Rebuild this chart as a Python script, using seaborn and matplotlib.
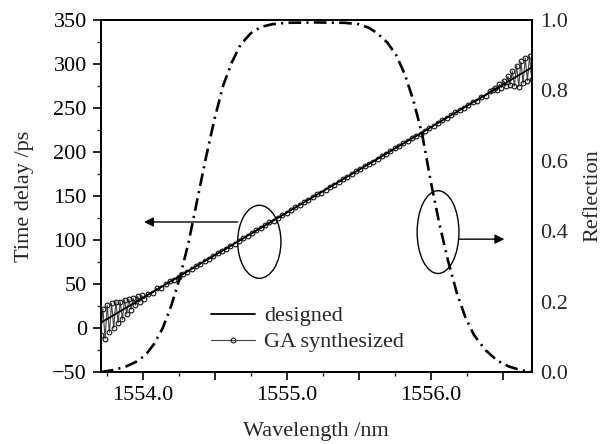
import matplotlib
matplotlib.use("Agg")
import matplotlib.pyplot as plt
import seaborn as sns
import numpy as np
import pandas as pd
from matplotlib.patches import Ellipse
from matplotlib.ticker import MultipleLocator, FuncFormatter

sns.set_style("ticks")
plt.rcParams['font.family'] = ['Liberation Serif', 'DejaVu Serif']
plt.rcParams['axes.unicode_minus'] = True

# ---- data ----
designed_wl = [1553.71, 1556.70]
designed_delay = [6, 296]

# GA synthesized: fine sampling at the noisy edges, coarser in the middle
ga_wl_left = [round(1553.71 + 0.015 * i, 3) for i in range(20)]
ga_delay_left = [-8, 22, -12, 26, -5, 28, 0, 30, 6, 30,
                 10, 32, 16, 33, 21, 34, 26, 36, 30, 37]
ga_wl_mid = [round(1554.01 + 0.03 * k, 3) for k in range(81)]
ga_delay_mid = [33, 39, 40, 45, 46, 50, 53, 55, 58, 61,
                64, 67, 70, 73, 76, 79, 82, 85, 87, 90,
                93, 96, 99, 102, 105, 108, 111, 114, 117, 120,
                122, 125, 128, 131, 134, 137, 140, 143, 146, 149,
                152, 154, 157, 160, 163, 166, 169, 172, 175, 178,
                181, 184, 186, 189, 192, 195, 198, 201, 204, 207,
                210, 213, 216, 218, 221, 224, 227, 230, 233, 236,
                239, 242, 245, 248, 250, 253, 257, 258, 263, 264,
                269]
ga_wl_right = [round(1556.43 + 0.015 * j, 3) for j in range(19)]
ga_delay_right = [270, 273, 271, 277, 273, 281, 275, 286, 276, 292,
                  275, 298, 274, 303, 278, 307, 281, 309, 283]

refl_wl = [1553.71, 1553.80, 1553.88, 1553.95, 1554.02, 1554.08, 1554.14, 1554.20,
           1554.26, 1554.32, 1554.38, 1554.44, 1554.50, 1554.56, 1554.62, 1554.68,
           1554.75, 1554.82, 1554.90, 1555.00, 1555.20, 1555.40, 1555.50, 1555.57,
           1555.63, 1555.70, 1555.76, 1555.82, 1555.88, 1555.94, 1556.00, 1556.06,
           1556.12, 1556.18, 1556.24, 1556.30, 1556.38, 1556.46, 1556.54, 1556.62,
           1556.70]
refl = [0.000, 0.006, 0.015, 0.028, 0.048, 0.080, 0.125, 0.190,
        0.270, 0.370, 0.490, 0.610, 0.720, 0.815, 0.880, 0.930,
        0.962, 0.980, 0.988, 0.992, 0.993, 0.992, 0.988, 0.978,
        0.962, 0.935, 0.900, 0.845, 0.770, 0.675, 0.540, 0.420,
        0.315, 0.225, 0.155, 0.105, 0.062, 0.033, 0.016, 0.006,
        0.000]

x_labels = {1554.0: "1554.0", 1555.0: "1555.0", 1556.0: "1556.0"}

df_des = pd.DataFrame({"wl": designed_wl, "delay": designed_delay})
df_ga = pd.DataFrame({"wl": ga_wl_left + ga_wl_mid + ga_wl_right,
                      "delay": ga_delay_left + ga_delay_mid + ga_delay_right})
df_ref = pd.DataFrame({"wl": refl_wl, "refl": refl})

fig = plt.figure(figsize=(6.07, 4.44), dpi=100)
ax = fig.add_axes([0.166, 0.162, 0.710, 0.793])
ax2 = ax.twinx()

sns.lineplot(data=df_ga, x="wl", y="delay", ax=ax, color="#444444", lw=0.8,
             marker="o", markersize=3.4, markerfacecolor="none",
             markeredgecolor="#111111", markeredgewidth=0.8,
             label="GA synthesized", zorder=3, sort=False)
sns.lineplot(data=df_des, x="wl", y="delay", ax=ax, color="black", lw=1.3,
             label="designed", zorder=4)

sns.lineplot(data=df_ref, x="wl", y="refl", ax=ax2, color="black", lw=1.9,
             linestyle=(0, (4.8, 2.0, 0.8, 2.0)), legend=False)

ax.set_xlim(1553.71, 1556.70)
ax.set_ylim(-50, 350)
ax2.set_ylim(0.0, 1.0)

ax.xaxis.set_major_locator(MultipleLocator(0.5))
ax.xaxis.set_minor_locator(MultipleLocator(0.25))
ax.xaxis.set_major_formatter(FuncFormatter(lambda v, p: x_labels.get(round(v, 2), "")))
ax.yaxis.set_major_locator(MultipleLocator(50))
ax.yaxis.set_minor_locator(MultipleLocator(25))
ax2.yaxis.set_major_locator(MultipleLocator(0.2))
ax2.yaxis.set_major_formatter(FuncFormatter(lambda v, p: f"{v:.1f}"))

ax.tick_params(axis="both", which="major", direction="out", length=6, width=1.2,
               labelsize=16, colors="black", pad=4)
ax.tick_params(axis="both", which="minor", direction="out", length=3, width=1.0)
ax.tick_params(axis="x", which="both", top=False)
ax.tick_params(axis="y", which="both", right=False)
ax2.tick_params(axis="y", which="both", length=0, labelsize=16, pad=6)

for a in (ax, ax2):
    for s in a.spines.values():
        s.set_visible(True)
        s.set_linewidth(1.3)
        s.set_color("black")

ax.set_xlabel("Wavelength /nm", fontsize=16, labelpad=12)
ax.set_ylabel("Time delay /ps", fontsize=16, labelpad=13)
ax2.set_ylabel("Reflection", fontsize=16, labelpad=11)

# annotations: ellipses and arrows
ax.add_patch(Ellipse((1554.81, 98), 0.30, 83, fill=False, lw=1.0, color="black", zorder=5))
ax.annotate("", xy=(1554.01, 120.5), xytext=(1554.66, 120.5),
            arrowprops=dict(arrowstyle="-|>", color="black", lw=1.0,
                            mutation_scale=14, shrinkA=0, shrinkB=0))
ax.add_patch(Ellipse((1556.05, 109), 0.29, 94, fill=False, lw=1.0, color="black", zorder=5))
ax.annotate("", xy=(1556.51, 101), xytext=(1556.195, 101),
            arrowprops=dict(arrowstyle="-|>", color="black", lw=1.0,
                            mutation_scale=14, shrinkA=0, shrinkB=0))

handles, labels = ax.get_legend_handles_labels()
order = [labels.index("designed"), labels.index("GA synthesized")]
leg = ax.legend([handles[i] for i in order], [labels[i] for i in order],
                loc="center left", bbox_to_anchor=(0.255, 0.122), frameon=False,
                fontsize=16, handlelength=2.0, handletextpad=0.4,
                labelspacing=0.25, borderpad=0, borderaxespad=0)

fig.savefig("out.png", dpi=100)
